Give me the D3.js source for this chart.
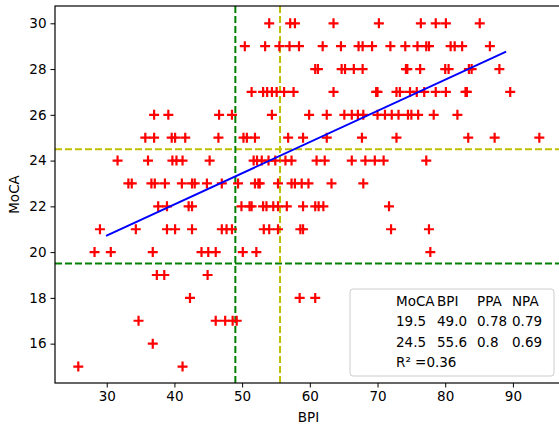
<!DOCTYPE html>
<html>
<head>
<meta charset="utf-8">
<script src="https://cdn.jsdelivr.net/npm/d3@7"></script>
<style>
  body { margin: 0; background: #fff; }
  svg { display: block; font-family: "DejaVu Sans", sans-serif; }
</style>
</head>
<body>
<div id="chart"></div>
<script>
const width = 559;
const height = 429;
const margin = { top: 6, right: -3, bottom: 46, left: 55 };

// MoCA score levels and the BPI values of the subjects at each level
const mocaLevels = [30, 29, 28, 27, 26, 25, 24, 23, 22, 21, 20, 19, 18, 17, 16, 15];
const bpiByLevel = [
  [54.0, 57.1, 57.8, 63.5, 70.2, 76.4, 78.6, 80.1, 85.1],
  [50.4, 53.4, 55.5, 57.0, 58.4, 61.9, 64.6, 67.2, 67.8, 69.2, 71.9, 74.1, 75.9, 77.2, 77.6, 80.8, 81.4, 82.5, 86.6],
  [60.8, 61.2, 64.7, 65.2, 66.5, 67.8, 74.2, 74.4, 76.3, 80.0, 80.5, 83.5, 83.9, 88.0],
  [51.4, 53.1, 53.7, 54.4, 55.1, 56.2, 57.6, 63.5, 69.8, 70.0, 72.8, 73.3, 74.8, 75.8, 76.9, 78.6, 80.1, 83.0, 83.2, 89.6],
  [37.0, 39.1, 46.6, 48.5, 54.4, 59.9, 62.5, 65.1, 66.2, 67.1, 67.9, 70.0, 71.1, 72.1, 73.1, 74.5, 75.0, 76.0, 78.3, 81.8],
  [35.7, 37.0, 39.6, 40.1, 41.6, 46.5, 50.2, 50.7, 51.9, 56.8, 59.0, 62.5, 67.7, 72.8, 83.4, 87.3, 93.9],
  [31.6, 36.1, 39.7, 40.3, 41.2, 45.2, 51.7, 52.2, 52.9, 53.9, 54.9, 56.4, 57.3, 61.0, 62.2, 66.2, 68.2, 69.6, 70.9, 77.2],
  [33.2, 33.7, 36.6, 37.1, 38.6, 41.1, 42.6, 43.0, 44.8, 47.0, 49.4, 51.9, 52.4, 52.6, 55.3, 57.3, 57.8, 58.8, 59.8, 63.2, 67.9],
  [37.6, 38.9, 42.1, 42.6, 49.9, 51.1, 51.4, 53.1, 53.6, 54.6, 55.3, 56.6, 59.0, 60.8, 61.3, 62.0, 71.7],
  [29.0, 34.3, 38.9, 40.1, 42.6, 47.0, 47.7, 48.5, 53.2, 54.0, 55.3, 58.6, 59.0, 72.0, 77.6],
  [28.2, 30.6, 36.8, 44.0, 45.0, 46.1, 50.1, 52.1, 77.8],
  [37.4, 38.5, 44.9],
  [42.3, 58.5, 60.8],
  [34.7, 46.1, 47.5, 48.6, 49.2],
  [36.8],
  [25.8, 41.2]
];

// cut-off lines: MoCA (horizontal) and BPI (vertical)
const mocaCuts = [19.5, 24.5];
const bpiCuts = [49.0, 55.6];
const cutColors = ['#008000', '#bfbf00'];

// regression line end points
const fitBpi = [29.9, 89.0];
const fitMoca = [20.71, 28.76];

// legend table
const legendHeader = ['MoCA', 'BPI', 'PPA', 'NPA'];
const legendRows = [
  ['19.5', '49.0', '0.78', '0.79'],
  ['24.5', '55.6', '0.8', '0.69']
];
const rSquared = '0.36';

const xTicks = [30, 40, 50, 60, 70, 80, 90];
const yTicks = [16, 18, 20, 22, 24, 26, 28, 30];

const points = [];
mocaLevels.forEach((m, i) => bpiByLevel[i].forEach(b => points.push({ bpi: b, moca: m })));

const svg = d3.select('#chart')
  .append('svg')
  .attr('width', width)
  .attr('height', height);

svg.append('rect').attr('width', width).attr('height', height).attr('fill', '#fff');

const innerW = width - margin.left - margin.right;
const innerH = height - margin.top - margin.bottom;

const g = svg.append('g')
  .attr('transform', `translate(${margin.left}, ${margin.top})`);

const x = d3.scaleLinear().domain([22.36, 97.25]).range([0, innerW]);
const y = d3.scaleLinear().domain([14.28, 30.756]).range([innerH, 0]);

// Cut-off lines
mocaCuts.forEach((c, i) => {
  g.append('line')
    .attr('x1', 0).attr('x2', innerW)
    .attr('y1', y(c)).attr('y2', y(c))
    .attr('stroke', cutColors[i])
    .attr('stroke-width', 2)
    .attr('stroke-dasharray', '7,3');
});
bpiCuts.forEach((c, i) => {
  g.append('line')
    .attr('x1', x(c)).attr('x2', x(c))
    .attr('y1', 0).attr('y2', innerH)
    .attr('stroke', cutColors[i])
    .attr('stroke-width', 2)
    .attr('stroke-dasharray', '7,3');
});

// Scatter markers (plus signs)
const arm = 5;
g.selectAll('path.pt')
  .data(points)
  .join('path')
  .attr('class', 'pt')
  .attr('d', d => {
    const cx = x(d.bpi), cy = y(d.moca);
    return `M${cx - arm},${cy}H${cx + arm}M${cx},${cy - arm}V${cy + arm}`;
  })
  .attr('stroke', '#ff0000')
  .attr('stroke-width', 2.2)
  .attr('fill', 'none');

// Regression line
g.append('path')
  .datum(fitBpi.map((b, i) => ({ bpi: b, moca: fitMoca[i] })))
  .attr('fill', 'none')
  .attr('stroke', '#0000ff')
  .attr('stroke-width', 2)
  .attr('d', d3.line().x(d => x(d.bpi)).y(d => y(d.moca)));

// Axes
const xAxis = g.append('g')
  .attr('transform', `translate(0,${innerH})`)
  .call(d3.axisBottom(x).tickValues(xTicks).tickSize(4.5).tickPadding(4));
const yAxis = g.append('g')
  .call(d3.axisLeft(y).tickValues(yTicks).tickSize(4.5).tickPadding(4));
[xAxis, yAxis].forEach(a => {
  a.selectAll('text')
    .attr('font-size', '13.5px')
    .attr('font-family', '"DejaVu Sans", sans-serif')
    .attr('fill', '#000');
  a.selectAll('line').attr('stroke', '#000').attr('stroke-width', 1);
  a.select('.domain').remove();
});

// Frame
g.append('rect')
  .attr('x', 0).attr('y', 0)
  .attr('width', innerW).attr('height', innerH)
  .attr('fill', 'none')
  .attr('stroke', '#000')
  .attr('stroke-width', 1.2);

// Axis labels
svg.append('text')
  .attr('x', margin.left + innerW / 2)
  .attr('y', 422)
  .attr('text-anchor', 'middle')
  .attr('font-size', '13.5px')
  .text('BPI');
svg.append('text')
  .attr('transform', `translate(19, ${margin.top + innerH / 2}) rotate(-90)`)
  .attr('text-anchor', 'middle')
  .attr('font-size', '13.5px')
  .text('MoCA');

// Legend box
const legend = svg.append('g').attr('transform', 'translate(350, 289)');
legend.append('rect')
  .attr('width', 204).attr('height', 87)
  .attr('rx', 3)
  .attr('fill', '#fff')
  .attr('fill-opacity', 0.8)
  .attr('stroke', '#cccccc')
  .attr('stroke-width', 1);

const colX = [46, 87, 127, 162];
const rowY = [16.7, 37, 57.7, 78];
const tableRows = [legendHeader, ...legendRows];
tableRows.forEach((row, r) => {
  row.forEach((cell, c) => {
    legend.append('text')
      .attr('x', colX[c])
      .attr('y', rowY[r])
      .attr('font-size', '13.5px')
      .attr('fill', '#000')
      .text(cell);
  });
});
legend.append('text')
  .attr('x', colX[0])
  .attr('y', rowY[3])
  .attr('font-size', '13.5px')
  .attr('fill', '#000')
  .text(`R² =${rSquared}`);
</script>
</body>
</html>
